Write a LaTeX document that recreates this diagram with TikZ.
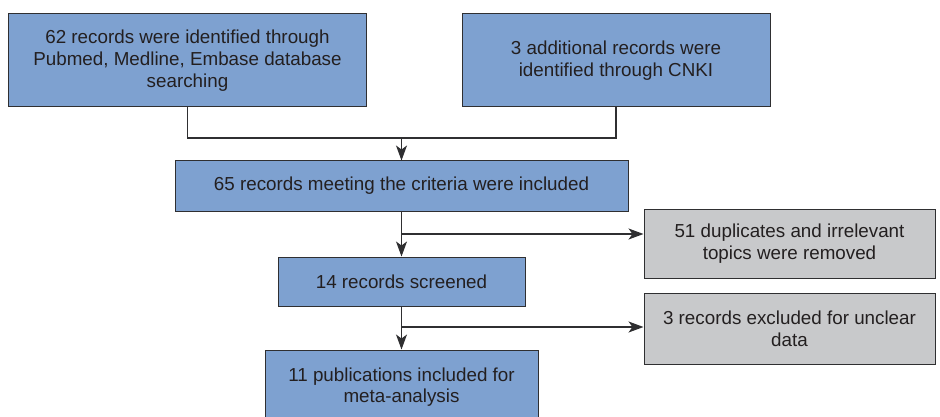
\documentclass[tikz,border=0pt]{standalone}
\usepackage{fontspec}
\setmainfont{Liberation Sans}
\usetikzlibrary{arrows.meta}
\definecolor{boxblue}{HTML}{7EA1D0}
\definecolor{boxgray}{HTML}{C8C9CB}
\definecolor{edge}{HTML}{2F2F31}
\definecolor{ink}{HTML}{231F20}
\tikzset{
    flow/.style = {draw = edge, line width = 1pt, fill = boxblue, text = ink, align = center,
                   inner sep = 0pt, font = \fontsize{18.8}{21.7}\selectfont},
    side/.style = {flow, fill = boxgray},
    link/.style = {draw = edge, line width = 1.1pt},
    arr/.style  = {link, -{Stealth[length = 15pt, width = 11pt, inset = 4pt]}}
}

\begin{document}
\begin{tikzpicture}[x = 1pt, y = -1pt]
    \useasboundingbox (0,0) rectangle (940,417);
    \node[flow, minimum width = 358pt, minimum height = 93pt] (ident) at (187.5,60.5)
        {62 records were identified through\\Pubmed, Medline, Embase database\\searching};
    \node[flow, minimum width = 308pt, minimum height = 93pt] (cnki) at (616,60.5)
        {3 additional records were\\identified through CNKI};
    \node[flow, minimum width = 453pt, minimum height = 50pt] (crit) at (401.5,186)
        {65 records meeting the criteria were included};
    \node[flow, minimum width = 247pt, minimum height = 49pt] (screen) at (401.5,281.5)
        {14 records screened};
    \node[flow, minimum width = 273pt, minimum height = 74pt] (meta) at (401.5,387)
        {11 publications included for\\meta-analysis};
    \node[side, minimum width = 291pt, minimum height = 69pt] (dup) at (789.5,243.5)
        {51 duplicates and irrelevant\\topics were removed};
    \node[side, minimum width = 291pt, minimum height = 71pt] (uncl) at (789.5,328.5)
        {3 records excluded for unclear\\data};
    \coordinate (join) at (401.5,138);
    \coordinate (brA) at (401.5,234);
    \coordinate (brB) at (401.5,327);
    \draw[link] (ident.south) |- (join) -| (cnki.south);
    \draw[arr] (join) -- (crit.north);
    \draw[arr] (crit.south) -- (screen.north);
    \draw[arr] (brA) -- (brA -| dup.west);
    \draw[arr] (screen.south) -- (meta.north);
    \draw[arr] (brB) -- (brB -| uncl.west);
    \end{tikzpicture}
\end{document}
